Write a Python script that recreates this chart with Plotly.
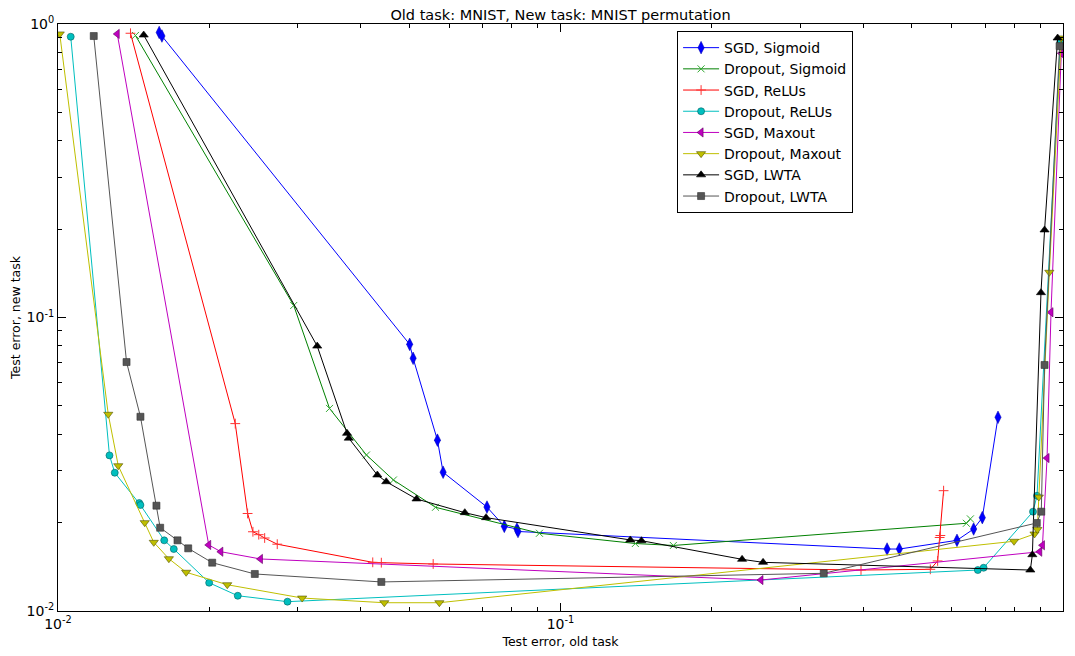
import plotly.graph_objects as go

# ---- data (test error old task, test error new task) ----
sgd_sigmoid_x = [0.0159, 0.0161, 0.0501, 0.0509, 0.0569, 0.0584, 0.0714, 0.0773, 0.0819, 0.0823,
                 0.4466, 0.4724, 0.6152, 0.6640, 0.6909, 0.7424]
sgd_sigmoid_y = [0.936, 0.910, 0.0810, 0.0726, 0.0382, 0.0297, 0.0226, 0.01943, 0.01903, 0.01866,
                 0.01626, 0.01626, 0.01741, 0.01903, 0.0208, 0.0457]

drop_sigmoid_x = [0.01426, 0.02945, 0.0347, 0.0411, 0.0465, 0.0564, 0.0908, 0.1409, 0.1677, 0.6423, 0.6542]
drop_sigmoid_y = [0.914, 0.1099, 0.0490, 0.0340, 0.02795, 0.02256, 0.01840, 0.01698, 0.01672, 0.01990, 0.0206]

sgd_relu_x = [0.01394, 0.02253, 0.02384, 0.02443, 0.02509, 0.02578, 0.02731, 0.0423, 0.0440, 0.0558,
              0.3963, 0.5445, 0.5630, 0.5682, 0.5701, 0.5786]
sgd_relu_y = [0.930, 0.0435, 0.02149, 0.01862, 0.01820, 0.01773, 0.01689, 0.01465, 0.01461, 0.01446,
              0.01379, 0.01387, 0.01481, 0.01780, 0.01808, 0.02570]

drop_relu_x = [0.01060, 0.01266, 0.01297, 0.01451, 0.01459, 0.01627, 0.01700, 0.01999, 0.02279, 0.02862,
               0.6769, 0.6950, 0.8716, 0.8878, 0.9877]
drop_relu_y = [0.905, 0.0339, 0.02959, 0.02333, 0.02297, 0.01741, 0.01626, 0.01248, 0.01127, 0.01076,
               0.01379, 0.01404, 0.0218, 0.02470, 0.868]

sgd_maxout_x = [0.01312, 0.01995, 0.02109, 0.02529, 0.2506, 0.8991, 0.9103, 0.9295, 0.9465, 0.9922]
sgd_maxout_y = [0.925, 0.01679, 0.01592, 0.01504, 0.01275, 0.01592, 0.01675, 0.0332, 0.1042, 0.795]

drop_maxout_x = [0.01008, 0.01259, 0.01318, 0.01488, 0.01551, 0.01662, 0.01799, 0.02172, 0.03061, 0.0446,
                 0.0574, 0.7990, 0.8776, 0.8890, 0.8951, 0.9393, 0.9922]
drop_maxout_y = [0.925, 0.0468, 0.03126, 0.0200, 0.01714, 0.01507, 0.01355, 0.01229, 0.01107, 0.01067,
                 0.01067, 0.01728, 0.01830, 0.01895, 0.02445, 0.1426, 0.896]

sgd_lwta_x = [0.01481, 0.0328, 0.0376, 0.0379, 0.0432, 0.0450, 0.0517, 0.0645, 0.0711, 0.1377, 0.1449,
              0.2298, 0.2530, 0.861, 0.869, 0.904, 0.919, 0.9757]
sgd_lwta_y = [0.917, 0.0799, 0.0403, 0.0388, 0.02906, 0.02757, 0.02408, 0.02163, 0.0208, 0.01746, 0.01736,
              0.0150, 0.01465, 0.01379, 0.01555, 0.1215, 0.1987, 0.896]

drop_lwta_x = [0.01178, 0.01369, 0.01459, 0.01570, 0.01597, 0.01729, 0.01816, 0.02027, 0.02464, 0.0440,
               0.3341, 0.8869, 0.9053, 0.919, 0.9845]
drop_lwta_y = [0.910, 0.0705, 0.0459, 0.02285, 0.01922, 0.01741, 0.01635, 0.01461, 0.01337, 0.01256,
               0.01344, 0.01995, 0.0218, 0.0689, 0.841]

names = ["SGD, Sigmoid", "Dropout, Sigmoid", "SGD, ReLUs", "Dropout, ReLUs",
         "SGD, Maxout", "Dropout, Maxout", "SGD, LWTA", "Dropout, LWTA"]

title_text = "Old task: MNIST, New task: MNIST permutation"
x_label = "Test error, old task"
y_label = "Test error, new task"
major_ticks = [0.01, 0.1, 1]
major_tick_text = ["10<sup>-2</sup>", "10<sup>-1</sup>", "10<sup>0</sup>"]
minor_ticks = [m * d for d in (0.01, 0.1) for m in range(2, 10)]

series = [
    (sgd_sigmoid_x, sgd_sigmoid_y, "#0000ff", "diamond-tall", "#0000aa", 9, 0.5),
    (drop_sigmoid_x, drop_sigmoid_y, "#008000", "x-thin", "#33aa33", 7, 1),
    (sgd_relu_x, sgd_relu_y, "#ff0000", "cross-thin", "#ff3333", 7, 1),
    (drop_relu_x, drop_relu_y, "#00bfbf", "circle", "#006060", 7, 0.6),
    (sgd_maxout_x, sgd_maxout_y, "#bf00bf", "triangle-left", "#600060", 8, 0.6),
    (drop_maxout_x, drop_maxout_y, "#bfbf00", "triangle-down", "#505000", 8, 0.6),
    (sgd_lwta_x, sgd_lwta_y, "#000000", "triangle-up", "#000000", 8, 0.6),
    (drop_lwta_x, drop_lwta_y, "#555555", "square", "#333333", 7, 0.6),
]

fig = go.Figure()
for name, (xs, ys, col, sym, edge, msize, mlw) in zip(names, series):
    marker = dict(symbol=sym, size=msize, color=col, line=dict(color=edge, width=mlw))
    fig.add_trace(go.Scatter(x=xs, y=ys, mode="lines+markers", name=name,
                             line=dict(color=col, width=1), marker=marker))

axis_common = dict(
    type="log", range=[-2, 0], showgrid=False, zeroline=False, automargin=False,
    showline=True, linecolor="black", linewidth=1, mirror="allticks",
    ticks="inside", ticklen=8, tickcolor="black", tickwidth=1,
    tickmode="array", tickvals=major_ticks, ticktext=major_tick_text,
    tickfont=dict(family="DejaVu Sans", size=14, color="black"),
    minor=dict(ticks="inside", ticklen=4, tickcolor="black", tickwidth=1,
               tickmode="array", tickvals=minor_ticks, showgrid=False),
)

# the page body adds an 8px margin, so the figure is drawn 8px smaller and offset
fig_w, fig_h = 1067, 648

fig.update_layout(
    width=fig_w, height=fig_h,
    margin=dict(l=50, r=12, t=16, b=45),
    paper_bgcolor="white", plot_bgcolor="white",
    font=dict(family="DejaVu Sans", color="black"),
    title=dict(text=title_text, x=0.5, xref="paper", y=1 - 2 / fig_h, yref="container",
               xanchor="center", yanchor="top", pad=dict(t=0, b=0),
               font=dict(size=14.5, color="black")),
    xaxis=dict(axis_common, title=dict(text=x_label, font=dict(size=12.5), standoff=6)),
    yaxis=dict(axis_common, title=dict(text=y_label, font=dict(size=12.5), standoff=3)),
    legend=dict(x=0.616, y=0.988, xanchor="left", yanchor="top",
                bordercolor="black", borderwidth=1, bgcolor="white", itemwidth=36,
                font=dict(size=14, color="black"), tracegroupgap=0),
    showlegend=True,
)

fig.write_html("out.html")
